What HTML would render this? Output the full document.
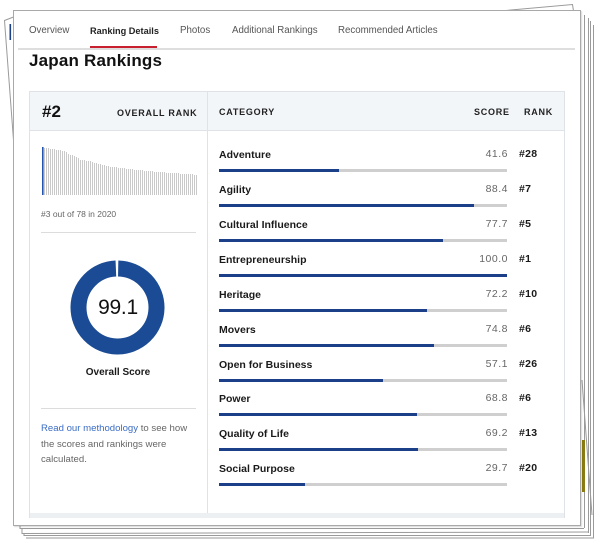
<!DOCTYPE html>
<html><head><meta charset="utf-8">
<style>
*{margin:0;padding:0;box-sizing:border-box}
html,body{width:600px;height:542px;background:#fff;overflow:hidden;position:relative;font-family:"Liberation Sans",Arial,sans-serif}
.abs{position:absolute}
#card{position:absolute;left:13px;top:10px;width:568px;height:516px;background:#fff;border:1px solid #a9a9a9;box-shadow:1px 1px 1px rgba(0,0,0,.15)}
.tab{position:absolute;top:25px;font-size:9.7px;color:#555;white-space:nowrap;line-height:12px}
.hdr{position:absolute;font-size:9px;font-weight:bold;letter-spacing:.75px;color:#222;line-height:12px;white-space:nowrap}
.row{position:absolute;left:219px;width:340px;height:30px}
.row .lab{position:absolute;left:0;top:0;font-size:10.5px;font-weight:bold;color:#1a1a1a;line-height:14px;white-space:nowrap}
.row .sc{position:absolute;right:51px;top:-1px;font-size:10.5px;color:#666;line-height:14px;letter-spacing:.5px}
.row .rk{position:absolute;left:300px;top:-1px;font-size:10.5px;font-weight:bold;color:#1a1a1a;line-height:14px;letter-spacing:.3px}
.row .trk{position:absolute;left:0;top:21px;width:288px;height:3px;background:#cfcfcf}
.row .fill{position:absolute;left:0;top:0;height:3px;background:#1b3f88}
</style></head><body>
<svg class="abs" style="left:0;top:0" width="600" height="542" viewBox="0 0 600 542">
  <g fill="none" stroke="#9a9a9a" stroke-width="1">
    <path d="M13.5 17 L4.5 20.5 L13.5 140"/>
    <path d="M500 11 L572.5 4.5 L573.5 11"/>
    <path d="M584.5 15 L584.5 528"/>
    <path d="M588.5 18 L588.5 533"/>
    <path d="M590.5 21 L590.5 536"/>
    <path d="M593.5 25 L593.5 538"/>
    <path d="M582 380 L592 515"/>
    <path d="M20 528.5 L584 528.5"/>
    <path d="M22 533.5 L588 532"/>
    <path d="M24 535.5 L591 535.5"/>
    <path d="M26 538 L594 538"/>
    <path d="M20 526 L20 529 M22 529 L22 534 M24 534 L24 536"/>
  </g>
  <rect x="9.5" y="24" width="1.6" height="16" fill="#1b3f88"/>
  <rect x="582" y="440" width="3" height="52" fill="#8a7a10"/>
</svg>
<div id="card"></div>

<div class="tab" style="left:29px">Overview</div>
<div class="tab" style="left:90px;color:#222;font-weight:bold;font-size:9.2px">Ranking Details</div>
<div class="abs" style="left:90px;top:46px;width:67px;height:2px;background:#c8202f"></div>
<div class="tab" style="left:180px">Photos</div>
<div class="tab" style="left:232px">Additional Rankings</div>
<div class="tab" style="left:338px">Recommended Articles</div>
<div class="abs" style="left:18px;top:48px;width:557px;height:2px;background:#dedede"></div>

<div class="abs" style="left:29px;top:50px;font-size:17px;font-weight:bold;color:#111;line-height:22px;letter-spacing:.2px">Japan Rankings</div>

<div class="abs" style="left:29px;top:91px;width:536px;height:427px;border:1px solid #dfe3e7;background:#fff"></div>
<div class="abs" style="left:29px;top:91px;width:536px;height:40px;border:1px solid #dfe3e7;background:#f3f6f9"></div>
<div class="abs" style="left:207px;top:91px;width:1px;height:422px;background:#dfe3e7"></div>
<div class="abs" style="left:30px;top:513px;width:534px;height:5px;background:#edf0f3"></div>

<div class="abs" style="left:42px;top:102px;font-size:17px;font-weight:bold;color:#111;line-height:20px">#2</div>
<div class="hdr" style="left:117px;top:107px">OVERALL RANK</div>
<div class="hdr" style="left:219px;top:106px">CATEGORY</div>
<div class="hdr" style="left:474px;top:106px">SCORE</div>
<div class="hdr" style="left:524px;top:106px">RANK</div>

<svg class="abs" style="left:0;top:0" width="210" height="200" viewBox="0 0 210 200">
<rect x="42" y="147" width="1.6" height="48" fill="#2455b0"/>
<path stroke="#c9c9c9" stroke-width="1" fill="none" d="M44.5 148V195M46.5 148V195M48.5 148V195M50.5 149V195M52.5 149V195M54.5 149V195M56.5 150V195M58.5 150V195M60.5 150V195M62.5 151V195M64.5 151V195M66.5 152V195M68.5 154V195M70.5 155V195M72.5 155V195M74.5 156V195M76.5 157V195M78.5 158V195M80.5 160V195M82.5 160V195M84.5 160V195M86.5 161V195M88.5 161V195M90.5 161V195M92.5 162V195M94.5 163V195M96.5 163V195M98.5 164V195M100.5 164V195M102.5 165V195M104.5 165V195M106.5 166V195M108.5 166V195M110.5 167V195M112.5 167V195M114.5 167V195M116.5 167V195M118.5 168V195M120.5 168V195M122.5 168V195M124.5 168V195M126.5 169V195M128.5 169V195M130.5 169V195M132.5 169V195M134.5 170V195M136.5 170V195M138.5 170V195M140.5 170V195M142.5 170V195M144.5 171V195M146.5 171V195M148.5 171V195M150.5 171V195M152.5 171V195M154.5 172V195M156.5 172V195M158.5 172V195M160.5 172V195M162.5 172V195M164.5 172V195M166.5 173V195M168.5 173V195M170.5 173V195M172.5 173V195M174.5 173V195M176.5 173V195M178.5 173V195M180.5 174V195M182.5 174V195M184.5 174V195M186.5 174V195M188.5 174V195M190.5 174V195M192.5 174V195M194.5 175V195M196.5 175V195"/>
</svg>
<div class="abs" style="left:41px;top:209px;font-size:8.5px;color:#666;line-height:11px;white-space:nowrap">#3 out of 78 in 2020</div>
<div class="abs" style="left:41px;top:232px;width:155px;height:1px;background:#dcdcdc"></div>

<svg class="abs" style="left:70px;top:260px" width="96" height="96" viewBox="0 0 96 96">
  <circle cx="47.5" cy="47.5" r="39" fill="none" stroke="#1a4b94" stroke-width="16" stroke-dasharray="242.3 2.7" transform="rotate(-89 47.5 47.5)"/>
</svg>
<div class="abs" style="left:78px;top:295px;width:80px;text-align:center;font-size:21px;color:#111;line-height:26px;letter-spacing:-.3px">99.1</div>
<div class="abs" style="left:68px;top:366px;width:100px;text-align:center;font-size:10px;font-weight:bold;color:#1a1a1a;line-height:13px">Overall Score</div>
<div class="abs" style="left:41px;top:408px;width:155px;height:1px;background:#dcdcdc"></div>
<div class="abs" style="left:41px;top:421px;width:160px;font-size:9.6px;color:#666;line-height:15.5px"><span style="color:#3a6cc4">Read our methodology</span> to see how the scores and rankings were calculated.</div>

<div class="row" style="top:148px"><div class="lab">Adventure</div><div class="sc">41.6</div><div class="rk">#28</div><div class="trk"><div class="fill" style="width:120px"></div></div></div>
<div class="row" style="top:183px"><div class="lab">Agility</div><div class="sc">88.4</div><div class="rk">#7</div><div class="trk"><div class="fill" style="width:255px"></div></div></div>
<div class="row" style="top:218px"><div class="lab">Cultural Influence</div><div class="sc">77.7</div><div class="rk">#5</div><div class="trk"><div class="fill" style="width:224px"></div></div></div>
<div class="row" style="top:253px"><div class="lab">Entrepreneurship</div><div class="sc">100.0</div><div class="rk">#1</div><div class="trk"><div class="fill" style="width:288px"></div></div></div>
<div class="row" style="top:288px"><div class="lab">Heritage</div><div class="sc">72.2</div><div class="rk">#10</div><div class="trk"><div class="fill" style="width:208px"></div></div></div>
<div class="row" style="top:323px"><div class="lab">Movers</div><div class="sc">74.8</div><div class="rk">#6</div><div class="trk"><div class="fill" style="width:215px"></div></div></div>
<div class="row" style="top:358px"><div class="lab">Open for Business</div><div class="sc">57.1</div><div class="rk">#26</div><div class="trk"><div class="fill" style="width:164px"></div></div></div>
<div class="row" style="top:392px"><div class="lab">Power</div><div class="sc">68.8</div><div class="rk">#6</div><div class="trk"><div class="fill" style="width:198px"></div></div></div>
<div class="row" style="top:427px"><div class="lab">Quality of Life</div><div class="sc">69.2</div><div class="rk">#13</div><div class="trk"><div class="fill" style="width:199px"></div></div></div>
<div class="row" style="top:462px"><div class="lab">Social Purpose</div><div class="sc">29.7</div><div class="rk">#20</div><div class="trk"><div class="fill" style="width:86px"></div></div></div>
</body></html>
